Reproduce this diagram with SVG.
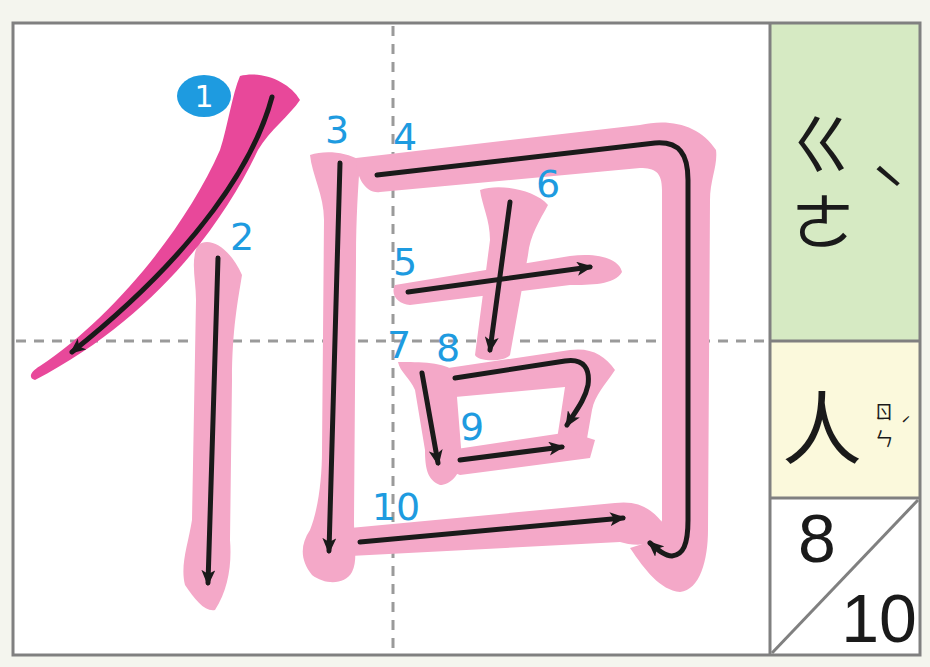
<svg xmlns="http://www.w3.org/2000/svg" width="930" height="667" viewBox="0 0 930 667">
<style>
.pink{fill:#f4a8c8}
.mag{fill:#e8489a}
.ink{fill:none;stroke:#1a1a1a;stroke-width:5;stroke-linecap:round;stroke-linejoin:round}
.lbl{font-family:"DejaVu Sans",sans-serif;font-size:38px;fill:#1e9be0;text-anchor:middle}
.guide{stroke:#9a9a9a;stroke-width:3;stroke-dasharray:10 8}
.cjk{font-family:"Noto Sans CJK TC",sans-serif;fill:#1a1a1a}
.num{font-family:"Liberation Sans",sans-serif;font-size:68px;fill:#1a1a1a;text-anchor:middle}
</style>
<defs>
<marker id="ah" markerWidth="16" markerHeight="14" refX="13" refY="7" orient="auto" markerUnits="userSpaceOnUse">
<path d="M0,0 L16,7 L0,14 L4,7 Z" fill="#1a1a1a"/>
</marker>
</defs>
<rect x="0" y="0" width="930" height="667" fill="#f4f5ee"/>
<rect x="13" y="23" width="907" height="632" fill="#ffffff"/>
<rect x="770" y="23" width="150" height="318" fill="#d6eac3"/>
<rect x="770" y="341" width="150" height="157" fill="#fbf9dc"/>
<g id="guides">
<line class="guide" x1="393" y1="26" x2="393" y2="654"/>
<line class="guide" x1="16" y1="341" x2="768" y2="341"/>
</g>
<g id="pink-strokes">
<path class="pink" d="M198,245 C210,236 230,248 242,275 C238,300 232,330 232,380 L230,540 C232,565 228,590 215,610 C205,612 195,600 185,585 C180,565 188,545 192,520 L196,300 C196,280 190,260 198,245 Z"/>
<path class="pink" d="M310,155 C325,150 345,152 360,160 C358,190 356,220 356,260 L354,520 C354,545 358,560 352,572 C345,585 325,585 312,575 C300,560 300,545 310,530 C318,510 322,480 322,450 L324,220 C324,195 312,175 310,155 Z"/>
<path class="pink" d="M356,158 L640,125 C670,118 700,125 716,150 C718,165 710,180 710,200 L708,530 C708,560 700,590 680,592 C660,590 645,570 630,548 L655,540 L662,520 L662,190 C662,172 655,168 640,168 L380,192 C366,194 356,178 356,158 Z"/>
<path class="pink" d="M350,528 L615,503 C640,500 652,510 662,522 L662,542 C640,546 630,545 620,542 L350,556 Z"/>
<path class="pink" d="M395,285 L570,256 C600,252 620,260 622,272 C615,285 590,285 570,285 L410,305 C398,304 390,295 395,285 Z"/>
<path class="pink" d="M480,190 C500,183 535,190 548,205 C540,220 530,235 528,255 L510,355 C505,362 478,362 475,355 L490,240 C490,220 482,205 480,190 Z"/>
<path class="pink" d="M398,362 C420,362 445,362 455,372 L462,460 C460,475 450,485 440,485 C428,480 425,470 425,450 L415,390 C410,378 400,372 398,362 Z"/>
<path class="pink" d="M448,368 L570,350 C590,347 605,355 615,370 C605,385 595,395 592,410 L585,450 L555,452 L560,420 L565,387 L455,397 Z"/>
<path class="pink" d="M450,450 L570,432 L595,440 L590,458 L460,475 C450,472 445,460 450,450 Z"/>
<path class="mag" d="M240,76 C262,70 290,82 300,100 C290,115 270,130 258,150 C220,230 150,320 35,380 C28,378 30,372 40,366 C110,320 185,230 220,150 C228,125 232,95 240,76 Z"/>
</g>
<g id="arrows">
<path class="ink" d="M272,97 C255,160 200,250 72,352" marker-end="url(#ah)"/>
<path class="ink" d="M218,258 L208,583" marker-end="url(#ah)"/>
<path class="ink" d="M340,163 L329,551" marker-end="url(#ah)"/>
<path class="ink" d="M377,175 L655,143 C680,141 688,155 688,180 L688,520 C688,545 683,555 672,556 C665,556 658,550 650,543" marker-end="url(#ah)"/>
<path class="ink" d="M408,292 L590,267" marker-end="url(#ah)"/>
<path class="ink" d="M510,202 L490,350" marker-end="url(#ah)"/>
<path class="ink" d="M422,373 L438,463" marker-end="url(#ah)"/>
<path class="ink" d="M455,378 L565,361 C585,358 590,370 588,385 C585,400 575,412 567,425" marker-end="url(#ah)"/>
<path class="ink" d="M460,460 L562,447" marker-end="url(#ah)"/>
<path class="ink" d="M360,542 L623,518" marker-end="url(#ah)"/>
</g>
<g id="labels">
<ellipse cx="204" cy="96" rx="27" ry="21" fill="#1e9be0"/>
<text x="204" y="107" font-family="DejaVu Sans,sans-serif" font-size="30" fill="#ffffff" text-anchor="middle">1</text>
<text class="lbl" x="242" y="250">2</text>
<text class="lbl" x="337" y="143">3</text>
<text class="lbl" x="405" y="150">4</text>
<text class="lbl" x="405" y="275">5</text>
<text class="lbl" x="548" y="197">6</text>
<text class="lbl" x="399" y="358">7</text>
<text class="lbl" x="448" y="361">8</text>
<text class="lbl" x="472" y="440">9</text>
<text class="lbl" x="396" y="520">10</text>
</g>
<g id="frame" fill="none" stroke="#808080" stroke-width="3">
<rect x="13" y="23" width="907" height="632"/>
<line x1="770" y1="23" x2="770" y2="655"/>
<line x1="770" y1="341" x2="920" y2="341"/>
<line x1="770" y1="498" x2="920" y2="498"/>
<line x1="918" y1="500" x2="772" y2="653"/>
</g>
<g id="info">
<text class="cjk" x="822" y="168" font-size="64" text-anchor="middle">ㄍ</text>
<text class="cjk" x="823" y="246" font-size="64" text-anchor="middle">ㄜ</text>
<text class="cjk" x="888" y="215" font-size="60" text-anchor="middle">ˋ</text>
<text class="cjk" x="822" y="458" font-size="80" text-anchor="middle">人</text>
<text class="cjk" x="884" y="419" font-size="19" text-anchor="middle">ㄖ</text>
<text class="cjk" x="884" y="446" font-size="19" text-anchor="middle">ㄣ</text>
<text class="cjk" x="906" y="432" font-size="18" text-anchor="middle">ˊ</text>
<text class="num" x="817" y="562">8</text>
<text class="num" x="879" y="642">10</text>
</g>
</svg>
